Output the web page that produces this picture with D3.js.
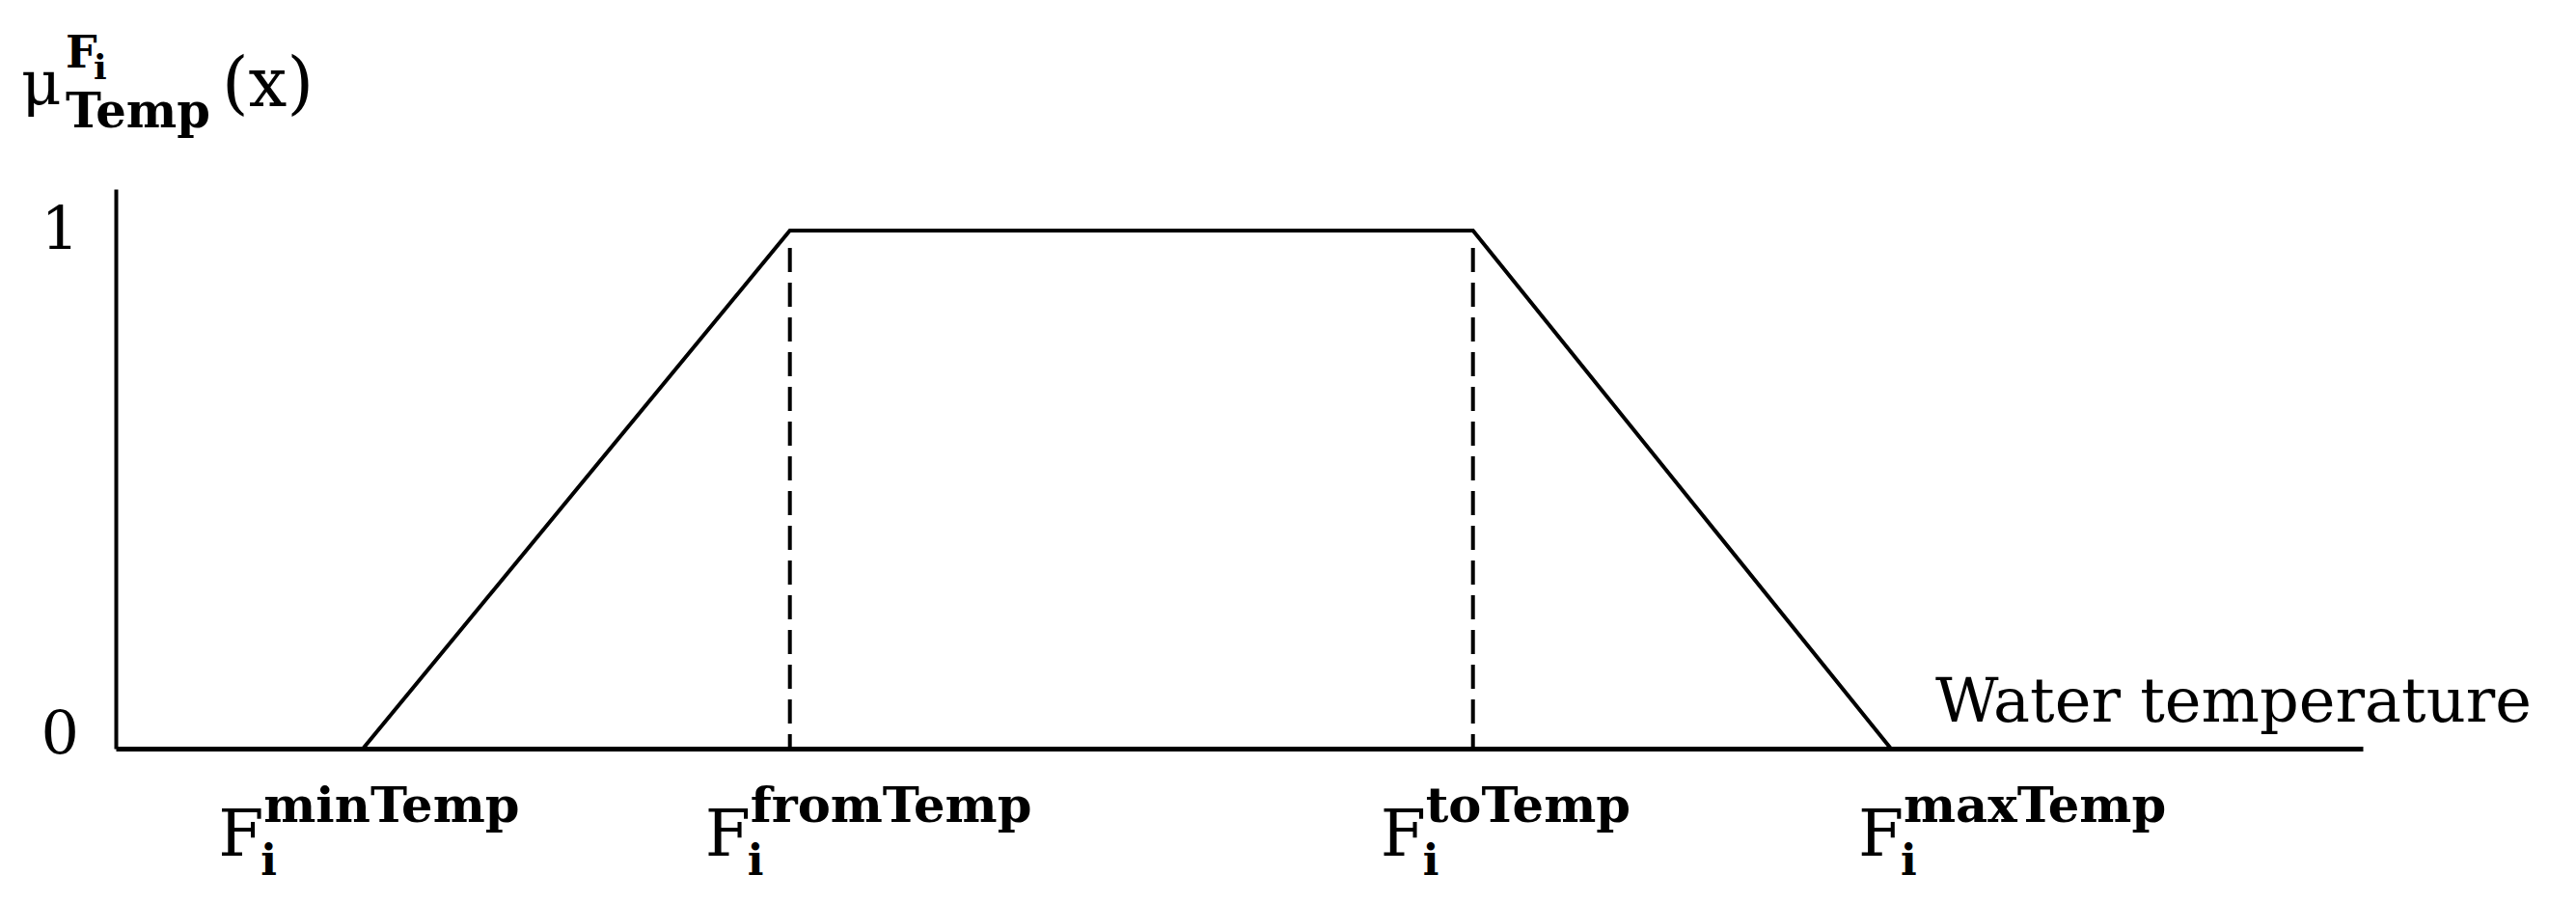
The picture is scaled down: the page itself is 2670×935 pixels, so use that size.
<!DOCTYPE html>
<html>
<head>
<meta charset="utf-8">
<script src="https://cdn.jsdelivr.net/npm/d3@7"></script>
<style>
  html, body { margin: 0; padding: 0; background: #fff; }
  svg { display: block; }
  text { font-family: "DejaVu Serif", "Liberation Serif", serif; fill: #000; }
</style>
</head>
<body>
<svg id="chart" width="2670" height="935"></svg>
<script>
// ---------- data ----------
const categories = ["minTemp", "fromTemp", "toTemp", "maxTemp"];   // breakpoint names
const breakpoints = [1.1, 3.0, 6.04, 7.9];                          // positions on temperature axis
const membership = [0, 1, 1, 0];                                    // μ at each breakpoint
const yTicks = [0, 1];
const yTickLabels = ["0", "1"];
const xAxisLabel = "Water temperature";
const xDomain = [0, 10];
const yDomain = [0, 1.08];

// ---------- layout ----------
const plotLeft = 120, plotRight = 2449, plotTop = 196, plotBottom = 776;
const labelDx = [-150, -88, -96, -34];          // left edge of "F" relative to breakpoint
const supTargetW = [267, 298, 210, 268];

const svg = d3.select("#chart");
const x = d3.scaleLinear().domain(xDomain).range([plotLeft, plotRight]);
const y = d3.scaleLinear().domain(yDomain).range([plotBottom, plotTop]);

function measure(str, size, weight) {
  const t = svg.append("text").attr("font-size", size).attr("font-weight", weight || "normal").text(str);
  const w = t.node().getComputedTextLength();
  t.remove();
  return w;
}

// ---------- axes ----------
const yAxis = d3.axisLeft(y).tickValues(yTicks).tickSize(0).tickSizeOuter(0).tickPadding(38)
  .tickFormat((d, i) => yTickLabels[i]);
const gy = svg.append("g").attr("transform", `translate(${plotLeft},0)`).call(yAxis);
gy.select(".domain").attr("stroke", "#000").attr("stroke-width", 4);
gy.selectAll(".tick text")
  .attr("font-family", '"DejaVu Serif", serif')
  .attr("font-size", 62)
  .attr("fill", "#000")
  .attr("dy", d => d === 0 ? "0.08em" : "0.3em");

const xAxis = d3.axisBottom(x).tickValues(breakpoints).tickSize(0).tickSizeOuter(0).tickFormat("");
const gx = svg.append("g").attr("transform", `translate(0,${plotBottom})`).call(xAxis);
gx.select(".domain").attr("stroke", "#000").attr("stroke-width", 5);

// ---------- dashed guides ----------
breakpoints.forEach((b, i) => {
  if (membership[i] === 1) {
    svg.append("line")
      .attr("x1", x(b)).attr("x2", x(b))
      .attr("y1", y(1) + 7).attr("y2", y(0))
      .attr("stroke", "#000").attr("stroke-width", 4)
      .attr("stroke-dasharray", "25,11")
      .attr("stroke-dashoffset", 25);
  }
});

// ---------- membership trapezoid ----------
const line = d3.line().x(d => x(d[0])).y(d => y(d[1]));
svg.append("path")
  .datum(breakpoints.map((b, i) => [b, membership[i]]))
  .attr("d", line)
  .attr("fill", "none")
  .attr("stroke", "#000")
  .attr("stroke-width", 4)
  .attr("stroke-linejoin", "miter");

// ---------- x-axis label ----------
{
  const base = measure(xAxisLabel, 100);
  const fs = 100 * 618 / base;
  svg.append("text")
    .attr("x", 2006).attr("y", 748)
    .attr("font-size", fs)
    .text(xAxisLabel);
}

// ---------- breakpoint labels  F_i^{...} ----------
{
  const scales = categories.map((c, i) => supTargetW[i] / measure(c, 100, "bold"));
  const supFs = 100 * d3.mean(scales);
  categories.forEach((c, i) => {
    const fx = x(breakpoints[i]) + labelDx[i];
    const g = svg.append("g");
    g.append("text").attr("x", fx).attr("y", 887).attr("font-size", 68).text("F");
    g.append("text").attr("x", fx + 44).attr("y", 907).attr("font-size", 44).attr("font-weight", "bold").text("i");
    g.append("text").attr("x", fx + 47).attr("y", 852).attr("font-size", supFs).attr("font-weight", "bold").text(c);
  });
}

// ---------- y-axis title  μ_{Temp}^{F_i}(x) ----------
{
  const g = svg.append("g");
  g.append("text").attr("x", 22).attr("y", 108).attr("font-size", 64).text("μ");
  g.append("text").attr("x", 68).attr("y", 70).attr("font-size", 46).attr("font-weight", "bold").text("F");
  g.append("text").attr("x", 97).attr("y", 82).attr("font-size", 36).attr("font-weight", "bold").text("i");
  const tW = measure("Temp", 100, "bold");
  g.append("text").attr("x", 68).attr("y", 132).attr("font-size", 100 * 150 / tW).attr("font-weight", "bold").text("Temp");
  const pW = measure("(x)", 100);
  g.append("text").attr("x", 230).attr("y", 110).attr("font-size", 100 * 95 / pW).text("(x)");
}
</script>
</body>
</html>
